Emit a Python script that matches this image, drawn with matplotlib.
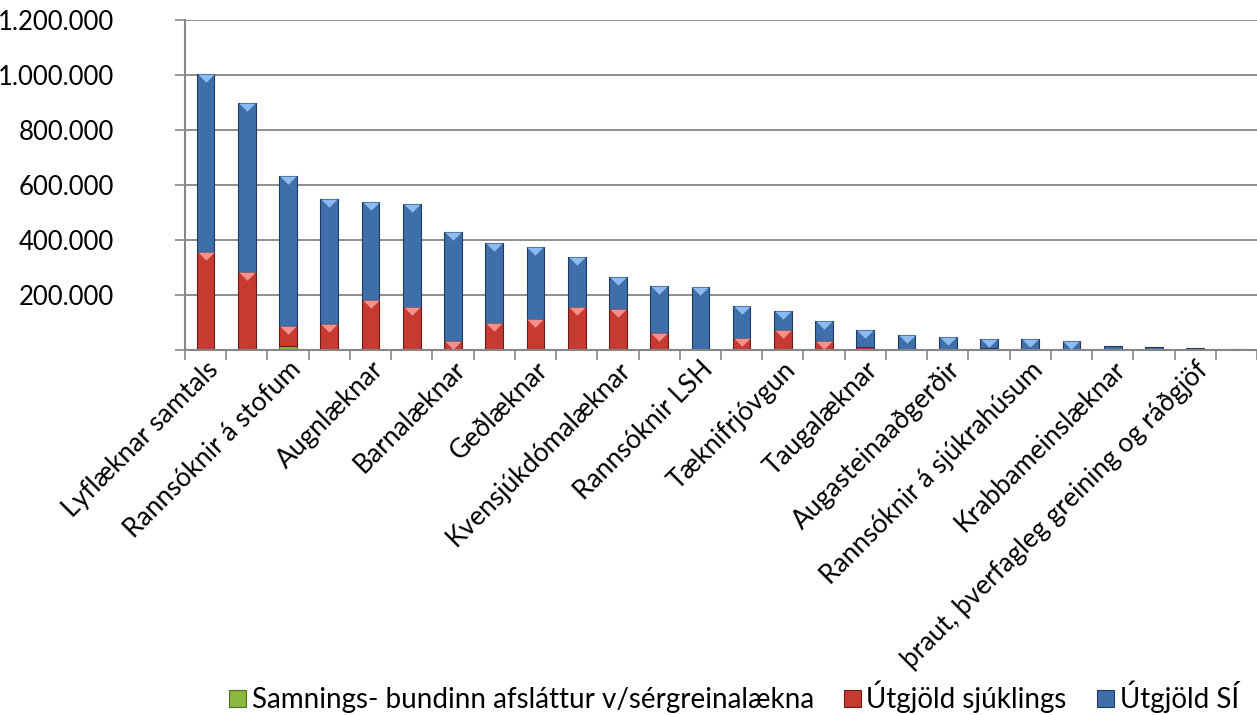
import numpy as np
import matplotlib
matplotlib.use('Agg')
import matplotlib.pyplot as plt
from matplotlib.path import Path
from matplotlib.ticker import FuncFormatter

plt.rcParams['font.family'] = ['Lato', 'DejaVu Sans']

# flokkar (aðeins annar hver sýndur á ásnum)
categories = [
    'Lyflæknar samtals', 'Bæklunarlæknar', 'Rannsóknir á stofum', 'Háls-, nef- og eyrnalæknar',
    'Augnlæknar', 'Húðlæknar', 'Barnalæknar', 'Hjartalæknar', 'Geðlæknar', 'Skurðlæknar',
    'Kvensjúkdómalæknar', 'Meltingarlæknar', 'Rannsóknir LSH', 'Þvagfæralæknar',
    'Tæknifrjóvgun', 'Lungnalæknar', 'Taugalæknar', 'Gigtarlæknar', 'Augasteinaaðgerðir',
    'Innkirtlalæknar', 'Rannsóknir á sjúkrahúsum', 'Nýrnalæknar', 'Krabbameinslæknar',
    'Lýtalæknar', 'þraut, þverfagleg greining og ráðgjöf', 'Æðaskurðlæknar',
]

# heildarupphæð á hverja súlu
totals = [1002000, 898000, 631000, 550000, 539000, 532000, 430000, 388000, 376000, 339000,
          267000, 234000, 230000, 161000, 143000, 107000, 74000, 56000, 48000, 41000,
          40000, 33000, 14500, 12000, 7000, 5000]
afslattur = [0, 0, 14500, 0, 0, 0, 0, 0, 0, 0,
             0, 0, 0, 0, 0, 0, 0, 0, 0, 0,
             0, 0, 0, 0, 0, 0]
sjuklings = [356000, 282000, 71500, 96000, 182000, 155000, 34000, 98000, 113000, 158000,
             148000, 63000, 2000, 44000, 74000, 31500, 10000, 1500, 2000, 7000,
             0, 0, 0, 0, 0, 0]
si = [t - a - s for t, a, s in zip(totals, afslattur, sjuklings)]

labels = ['Samnings- bundinn afsláttur v/sérgreinalækna', 'Útgjöld sjúklings', 'Útgjöld SÍ']
colors = ['#8DB83F', '#C63A32', '#3F6FAA']
edges = ['#4E6B1E', '#6E1C17', '#1F3A60']
lights = ['#C6E58A', '#F7908A', '#8DBBF0']

x = np.arange(len(categories))
width = 0.43

fig = plt.figure(figsize=(12.57, 7.15), dpi=100)
ax = fig.add_axes([185 / 1257, 1 - 350 / 715, 1 - 185 / 1257, 330 / 715])

ax.set_axisbelow(True)
ax.yaxis.grid(True, color='#868686', linewidth=1.3)

tri = Path([(-1, 0), (1, 0), (0, -1), (-1, 0)])
bottom = np.zeros(len(x))
for vals, c, ec, lc, lab in zip([afslattur, sjuklings, si], colors, edges, lights, labels):
    vals = np.array(vals, dtype=float)
    ax.bar(x, vals, width, bottom=bottom, color=c, edgecolor=ec, linewidth=0.8, label=lab)
    top = bottom + vals
    big = vals >= 25000
    ax.scatter(x[big], top[big], marker=tri, s=140, color=lc, linewidths=0, zorder=3)
    bottom = top

ax.set_xlim(-0.5, len(x) - 0.5)
ax.set_ylim(0, 1200000)
ax.set_yticks(np.arange(0, 1200001, 200000))
ax.yaxis.set_major_formatter(FuncFormatter(
    lambda v, p: '' if v == 0 else f'{int(v):,}'.replace(',', '.')))
ax.tick_params(axis='y', length=7, width=1.2, color='#868686', labelsize=18.5, pad=44)

ax.set_xticks(np.arange(-0.5, len(x), 1.0))
ax.set_xticklabels([])
ax.tick_params(axis='x', which='major', length=7, width=1.2, color='#868686', direction='out')
ax.set_xticks(x[::2], minor=True)
ax.set_xticklabels(categories[::2], minor=True, rotation=45, ha='right',
                   rotation_mode='anchor', fontsize=19)
ax.tick_params(axis='x', which='minor', length=0, pad=5)

for side in ['top', 'right']:
    ax.spines[side].set_visible(False)
for side in ['left', 'bottom']:
    ax.spines[side].set_color('#868686')
    ax.spines[side].set_linewidth(1.5)

fig.legend(loc='center', bbox_to_anchor=(734 / 1257, 1 - 697 / 715), ncol=3,
           frameon=False, fontsize=20, handlelength=0.6, handleheight=0.6,
           handletextpad=0.2, columnspacing=1.1)

plt.savefig('out.png', dpi=100)
